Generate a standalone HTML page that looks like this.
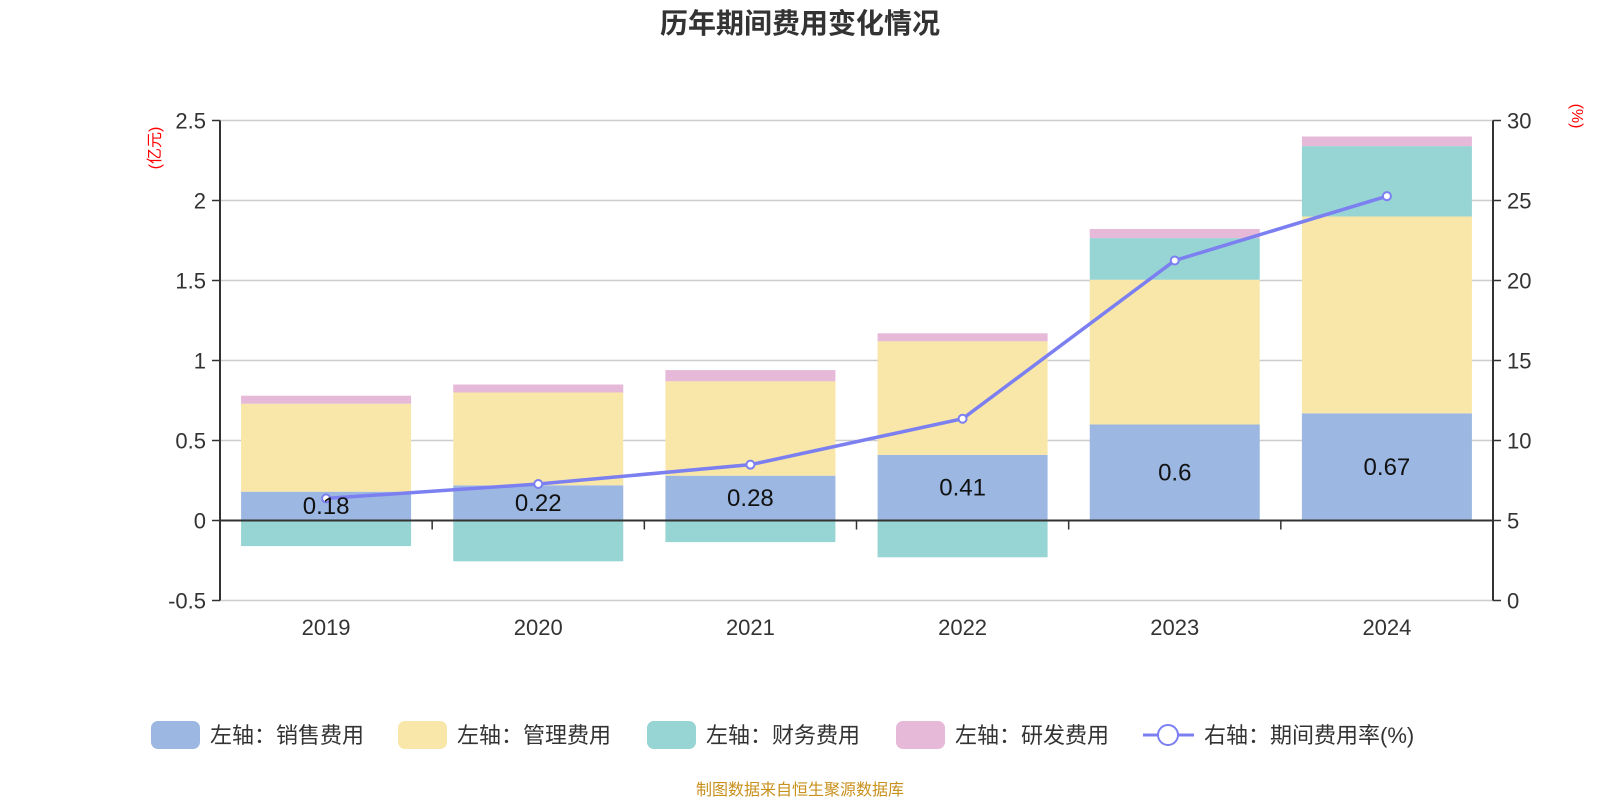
<!DOCTYPE html>
<html><head><meta charset="utf-8"><style>
body{margin:0;background:#fff}
svg{display:block;font-family:"Liberation Sans","Noto Sans CJK SC",sans-serif}
</style></head><body>
<svg id="c" width="1600" height="800">
<text x="800" y="33" text-anchor="middle" font-size="28" font-weight="bold" fill="#333">历年期间费用变化情况</text>
<text transform="translate(160,148) rotate(-90)" text-anchor="middle" font-size="16" fill="red">(亿元)</text>
<text transform="translate(1572,116) rotate(90)" text-anchor="middle" font-size="16" fill="red">(%)</text>
<g id="grid"></g><g id="bars"></g><g id="axes"></g><g id="line"></g><g id="labels"></g>
<g id="legend" font-size="22" fill="#333"></g>
<text x="800" y="795" text-anchor="middle" font-size="16" fill="#c8901c">制图数据来自恒生聚源数据库</text>
</svg>
<script>
const categories=["2019","2020","2021","2022","2023","2024"];
const sales=[0.18,0.22,0.28,0.41,0.6,0.67];
const mgmt=[0.55,0.58,0.59,0.71,0.905,1.23];
const finance=[-0.16,-0.255,-0.135,-0.23,0.26,0.44];
const rd=[0.05,0.05,0.07,0.05,0.057,0.06];
const rate=[6.38,7.28,8.49,11.36,21.25,25.27];
const leftTicks=[-0.5,0,0.5,1,1.5,2,2.5];
const rightTicks=[0,5,10,15,20,25,30];
const NS="http://www.w3.org/2000/svg";
const L=220,R=1493,T=120.5,B=600.5;
const yL=v=>T+(2.5-v)/3*(B-T);
const yR=v=>B-v/30*(B-T);
const cw=(R-L)/categories.length;
const xC=i=>L+cw*(i+0.5);
function mk(p,t,a){const e=document.createElementNS(NS,t);for(const k in a)e.setAttribute(k,a[k]);document.getElementById(p).appendChild(e);return e;}
leftTicks.forEach(v=>{
 const y=yL(v);
 if(v!==0){const g=mk('grid','line',{x1:L,x2:R,y1:y,y2:y,stroke:'#ccc','stroke-width':1.5});
 
 }
 const t=mk('axes','line',{x1:L-8,x2:L,y1:y,y2:y,stroke:'#333','stroke-width':1.5});
 
 
 const tx=mk('axes','text',{x:L-14,y:y+8,'text-anchor':'end','font-size':22,fill:'#333'});
 tx.textContent=v;
 
 
});
rightTicks.forEach(v=>{
 const y=yR(v);
 const t=mk('axes','line',{x1:R,x2:R+8,y1:y,y2:y,stroke:'#333','stroke-width':1.5});
 
 
 const tx=mk('axes','text',{x:R+14,y:y+8,'font-size':22,fill:'#333'});
 tx.textContent=v;
 
 
});
let a=mk('axes','line',{x1:L,x2:L,y1:T,y2:B,stroke:'#333','stroke-width':2});


a=mk('axes','line',{x1:R,x2:R,y1:T,y2:B,stroke:'#333','stroke-width':2});


a=mk('axes','line',{x1:L,x2:R,y1:yL(0),y2:yL(0),stroke:'#333','stroke-width':2});


for(let i=1;i<categories.length;i++){
 const t=mk('axes','line',{x1:L+cw*i,x2:L+cw*i,y1:yL(0),y2:yL(0)+9,stroke:'#333','stroke-width':1.5});
 
 
}
const colors={sales:'#9cb8e2',mgmt:'#f8e7a8',finance:'#97d4d4',rd:'#e7b9d9'};
const bw=170;
categories.forEach((c,i)=>{
 const x=xC(i)-bw/2;let pos=0,neg=0;
 [['sales',sales[i]],['mgmt',mgmt[i]],['finance',finance[i]],['rd',rd[i]]].forEach(([k,v])=>{
  let y0,y1;
  if(v>=0){y0=pos;y1=pos+v;pos=y1;}else{y0=neg;y1=neg+v;neg=y1;}
  const r=mk('bars','rect',{x:x,y:Math.min(yL(y0),yL(y1)),width:bw,height:Math.abs(yL(y0)-yL(y1)),fill:colors[k]});
  
  
 });
 const lb=mk('labels','text',{x:xC(i),y:yL(sales[i]/2)+8,'text-anchor':'middle','font-size':24,fill:'#111'});
 lb.textContent=sales[i];
 
 
 const xl=mk('axes','text',{x:xC(i),y:635,'text-anchor':'middle','font-size':22,fill:'#333'});
 xl.textContent=c;
 
 
});
const pl=mk('line','polyline',{points:rate.map((v,i)=>xC(i)+','+yR(v)).join(' '),fill:'none',stroke:'#7b7ff0','stroke-width':3.5});


rate.forEach((v,i)=>{
 const p=mk('line','circle',{cx:xC(i),cy:yR(v),r:4,fill:'#fff',stroke:'#7b7ff0','stroke-width':2});
 
 
});
const leg=[['sales','左轴：销售费用',151],['mgmt','左轴：管理费用',398],['finance','左轴：财务费用',647],['rd','左轴：研发费用',896]];
leg.forEach(([k,t,x])=>{
 const r=mk('legend','rect',{x:x,y:721,width:49,height:28,rx:7,fill:colors[k]});
 
 
 const tx=mk('legend','text',{x:x+59,y:743});
 tx.textContent=t;
 
 
});
let ll=mk('legend','line',{x1:1143,x2:1194,y1:735,y2:735,stroke:'#7b7ff0','stroke-width':3});


ll=mk('legend','circle',{cx:1168,cy:735,r:10,fill:'#fff',stroke:'#7b7ff0','stroke-width':2});


const lt=mk('legend','text',{x:1204,y:743});
lt.textContent='右轴：期间费用率(%)';


</script>
</body></html>
